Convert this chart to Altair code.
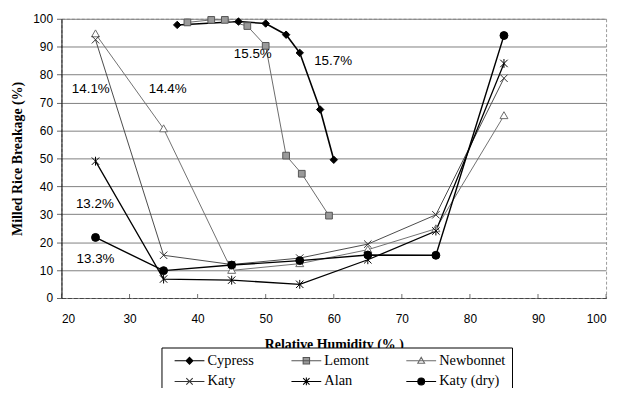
import altair as alt
import pandas as pd

# ---------------- data ----------------
series_names = ["Cypress", "Lemont", "Newbonnet", "Katy", "Alan", "Katy (dry)"]

cypress_rh = [37, 46, 50, 53, 55, 58, 60]
cypress_brk = [97.8, 99.0, 98.3, 94.3, 87.8, 67.5, 49.5]

lemont_rh = [38.5, 42, 44, 47.3, 50, 53, 55.3, 59.3]
lemont_brk = [98.7, 99.6, 99.6, 97.4, 90.3, 51.0, 44.5, 29.5]

rh = [25, 35, 45, 55, 65, 75, 85]
newbonnet_brk = [94.6, 60.6, 9.9, 12.3, 17.3, 24.8, 65.3]
katy_brk = [92.5, 15.3, 12.0, 14.3, 19.3, 29.8, 78.7]
alan_brk = [49.0, 6.8, 6.4, 4.9, 13.7, 24.0, 84.0]
katy_dry_brk = [21.7, 9.8, 11.8, 13.4, 15.4, 15.3, 94.0]

ann_text = ["15.5%", "15.7%", "14.1%", "14.4%", "13.2%", "13.3%"]
ann_rh = [48.1, 59.9, 24.3, 35.6, 24.9, 25.0]
ann_brk = [87.2, 84.9, 74.8, 74.8, 33.8, 13.9]

x_ticks = [20, 30, 40, 50, 60, 70, 80, 90, 100]
y_ticks = [0, 10, 20, 30, 40, 50, 60, 70, 80, 90, 100]

# ---------------- tables ----------------
xs = [cypress_rh, lemont_rh, rh, rh, rh, rh]
ys = [cypress_brk, lemont_brk, newbonnet_brk, katy_brk, alan_brk, katy_dry_brk]
rows = []
for name, xv, yv in zip(series_names, xs, ys):
    for a, b in zip(xv, yv):
        rows.append({"series": name, "rh": a, "brk": b})
df = pd.DataFrame(rows)
ann = pd.DataFrame({"rh": ann_rh, "brk": ann_brk, "text": ann_text})
ticks_df = pd.DataFrame({"rh": x_ticks, "brk": [0] * len(x_ticks)})

# ---------------- styles ----------------
SERIF = "Times New Roman, Liberation Serif, DejaVu Serif, serif"
SANS = "Arial, Liberation Sans, sans-serif"

line_color = ["#000000", "#6a6a6a", "#707070", "#4a4a4a", "#000000", "#000000"]
line_width = [1.6, 1.0, 1.0, 1.0, 1.3, 1.4]
mk_fill = ["#000000", "#9a9a9a", "#ffffff", "#444444", "#000000", "#000000"]
mk_stroke = ["#000000", "#555555", "#6a6a6a", "#333333", "#000000", "#000000"]
mk_size = [56, 46, 64, 56, 56, 64]


def marker_path(kind, cx, h):
    if kind == "diamond":
        return f"M{cx},{-h}L{cx + h},0L{cx},{h}L{cx - h},0Z"
    if kind == "square":
        return f"M{cx - h},{-h}H{cx + h}V{h}H{cx - h}Z"
    if kind == "triangle":
        return f"M{cx},{-h}L{cx + h},{0.75 * h}L{cx - h},{0.75 * h}Z"
    if kind == "x":
        return f"M{cx - h},{-h}L{cx + h},{h}M{cx - h},{h}L{cx + h},{-h}"
    if kind == "star":
        return (f"M{cx - h},{-h}L{cx + h},{h}M{cx - h},{h}L{cx + h},{-h}"
                f"M{cx},{-1.2 * h}L{cx},{1.2 * h}")
    return (f"M{cx - h},0A{h},{h} 0 1,0 {cx + h},0A{h},{h} 0 1,0 {cx - h},0Z")


kinds = ["diamond", "square", "triangle", "x", "star", "circle"]
plot_paths = [marker_path(k, 0, 1) for k in kinds]
plot_paths[5] = "circle"
leg_h = [0.8, 0.75, 0.8, 0.75, 0.75, 0.8]
legend_paths = ["M0,0H7" + marker_path(k, 3.5, h) for k, h in zip(kinds, leg_h)]

x_enc = alt.X("rh:Q", scale=alt.Scale(domain=[20, 100], nice=False),
              axis=alt.Axis(values=x_ticks, format="d", title="Relative Humidity (% )",
                            grid=False, ticks=False, labelPadding=16, labelOverlap=False,
                            domainColor="#444444", domainDash=[4, 2],
                            titlePadding=13))
y_enc = alt.Y("brk:Q", scale=alt.Scale(domain=[0, 100], nice=False),
              axis=alt.Axis(values=y_ticks, format="d", title="Milled Rice Breakage (%)",
                            grid=True, gridColor="#808080", gridWidth=1, labelOverlap=False,
                            tickSize=5, tickColor="#666666", labelPadding=4,
                            domainColor="#000000", titlePadding=8))

leg = alt.Legend(title=None, orient="none", legendX=101, legendY=332,
                 direction="horizontal", columns=3, columnPadding=30, rowPadding=6,
                 symbolSize=74, symbolStrokeWidth=1.1, symbolOpacity=1,
                 labelFont=SERIF, labelFontSize=14.5, labelColor="#000000",
                 labelOffset=26, strokeColor="#000000", padding=6, fillColor="#ffffff",
                 symbolType="circle")

legend_layer = alt.Chart(df).mark_point(opacity=0, filled=True).encode(
    x=x_enc, y=y_enc,
    shape=alt.Shape("series:N", scale=alt.Scale(domain=series_names, range=legend_paths), legend=leg),
    fill=alt.Fill("series:N", scale=alt.Scale(domain=series_names, range=mk_fill), legend=leg),
    stroke=alt.Stroke("series:N", scale=alt.Scale(domain=series_names, range=mk_stroke), legend=leg),
)

layers = [legend_layer]
for i, name in enumerate(series_names):
    base = alt.Chart(df).transform_filter(alt.datum.series == name)
    layers.append(base.mark_line(color=line_color[i], strokeWidth=line_width[i]).encode(x=x_enc, y=y_enc))
for i, name in enumerate(series_names):
    base = alt.Chart(df).transform_filter(alt.datum.series == name)
    layers.append(base.mark_point(shape=plot_paths[i], size=mk_size[i], filled=True,
                                  fill=mk_fill[i], stroke=mk_stroke[i], strokeWidth=1,
                                  opacity=1).encode(x=x_enc, y=y_enc))

layers.append(alt.Chart(ann).mark_text(font=SANS, fontSize=13.5, color="#000000",
                                       align="center", baseline="middle").encode(
    x=x_enc, y=y_enc, text="text:N"))
layers.append(alt.Chart(ticks_df).mark_tick(orient="vertical", size=4, thickness=1,
                                            color="#333333", yOffset=-2).encode(
    x=x_enc, y=y_enc))

chart = alt.layer(*layers).properties(
    width=550, height=282,
    autosize=alt.AutoSizeParams(type="none"),
    padding={"left": 54, "top": 9, "right": 8, "bottom": 89},
    background="#ffffff",
).configure_view(stroke="#9a9a9a", strokeDash=[3, 2]).configure_axis(
    labelFont=SANS, labelFontSize=12, labelColor="#000000",
    titleFont=SERIF, titleFontSize=14, titleFontWeight="bold", titleColor="#000000",
)

chart.save("out.html", embed_options={"renderer": "svg", "actions": False})
